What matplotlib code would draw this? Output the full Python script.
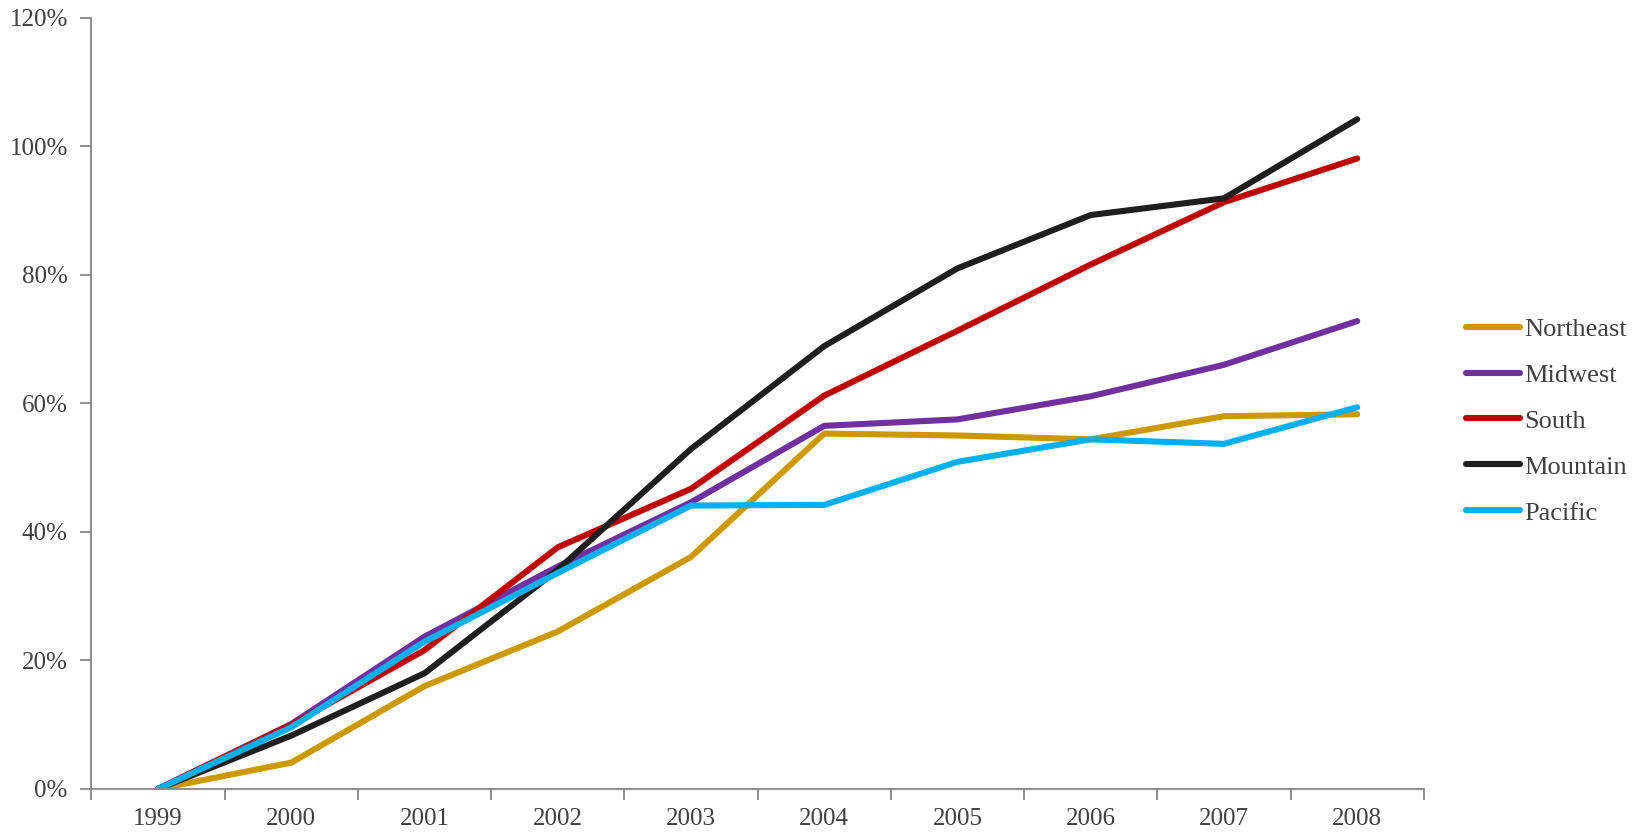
import matplotlib.pyplot as plt
import numpy as np
from matplotlib.ticker import FixedLocator, FuncFormatter

years = ['1999', '2000', '2001', '2002', '2003', '2004', '2005', '2006', '2007', '2008']
northeast = [0, 4.1, 16.0, 24.5, 36.1, 55.3, 55.0, 54.4, 58.0, 58.3]
midwest = [0, 10.1, 23.7, 34.6, 44.6, 56.5, 57.5, 61.1, 66.0, 72.8]
south = [0, 10.0, 21.6, 37.6, 46.7, 61.2, 71.3, 81.6, 91.3, 98.1]
mountain = [0, 8.3, 18.0, 34.1, 52.9, 68.9, 81.0, 89.3, 91.9, 104.2]
pacific = [0, 9.6, 22.9, 33.6, 44.1, 44.2, 50.9, 54.4, 53.7, 59.4]

names = ['Northeast', 'Midwest', 'South', 'Mountain', 'Pacific']
colors = ['#CC9900', '#7030A0', '#C00000', '#1F1F1F', '#00B0F0']

plt.rcParams['font.family'] = ['Liberation Serif', 'DejaVu Serif']

fig = plt.figure(figsize=(16.46, 8.32), dpi=100)
ax = fig.add_axes([0.0555, 0.0517, 0.8095, 0.927])

x = np.arange(len(years))
for vals, name, c in zip([northeast, midwest, south, mountain, pacific], names, colors):
    ax.plot(x, vals, color=c, lw=4.4, label=name, solid_capstyle='round', solid_joinstyle='round')

ax.set_xlim(-0.5, len(years) - 0.5)
ax.set_ylim(0, 120)
ax.set_yticks(np.arange(0, 121, 20))
ax.yaxis.set_major_formatter(FuncFormatter(lambda v, p: '%d%%' % v))

# category boundaries get the tick marks, labels sit in the middle
ax.xaxis.set_major_locator(FixedLocator(np.arange(-0.5, len(years), 1.0)))
ax.xaxis.set_major_formatter(FuncFormatter(lambda v, p: ''))
ax.xaxis.set_minor_locator(FixedLocator(x))
ax.set_xticklabels(years, minor=True)
ax.tick_params(axis='x', which='minor', length=0, pad=14)
ax.tick_params(axis='x', which='major', length=8, width=1.3, color='#868686', direction='out')
ax.tick_params(axis='y', length=8, width=1.3, color='#868686', direction='out', pad=9)
ax.tick_params(labelsize=18, labelcolor='#404040', which='both')

for s in ['top', 'right']:
    ax.spines[s].set_visible(False)
for s in ['left', 'bottom']:
    ax.spines[s].set_color('#868686')
    ax.spines[s].set_linewidth(1.3)

ax.legend(loc='center left', bbox_to_anchor=(0.8907, 0.494), bbox_transform=fig.transFigure,
          frameon=False, fontsize=19, handlelength=2.05, handletextpad=0.15,
          labelspacing=0.85, borderpad=0, borderaxespad=0, labelcolor='#404040')

plt.savefig('out.png', dpi=100)
